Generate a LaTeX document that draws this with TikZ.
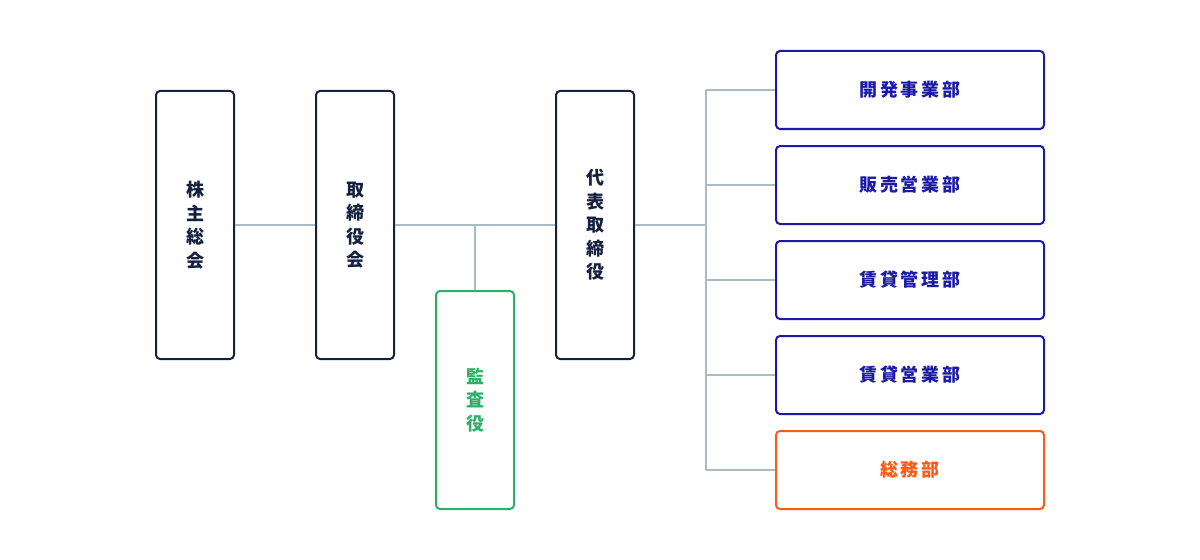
\documentclass[tikz,border=0pt]{standalone}
\usepackage{fontspec}
\setmainfont{Noto Sans CJK JP}
\newfontfamily\cjkh{Noto Sans CJK JP}[LetterSpace=16]
\definecolor{navy}{HTML}{13213F}
\definecolor{dblue}{HTML}{1A1AA6}
\definecolor{lgreen}{HTML}{2EAF68}
\definecolor{orng}{HTML}{FF5A14}
\definecolor{lgray}{HTML}{A9BCC3}
\begin{document}
\begin{tikzpicture}[x=0.75pt,y=-0.75pt,
  vbox/.style={draw=navy,line width=1.5pt,rounded corners=3pt,fill=white,inner sep=0pt,
    minimum width=58.5pt,minimum height=201pt,align=center,text=navy,
    font=\fontsize{13.5}{17.6}\selectfont\bfseries},
  hbox/.style={draw=dblue,line width=1.5pt,rounded corners=3pt,fill=white,inner sep=0pt,
    minimum width=201pt,minimum height=58.5pt,text=dblue,
    font=\fontsize{13.5}{16}\selectfont\cjkh\bfseries},
  conn/.style={draw=lgray,line width=1.5pt}]
\useasboundingbox (0,0) rectangle (1200,560);
\coordinate (j1) at (475,225);
\coordinate (trT) at (706,90);
\coordinate (trB) at (706,470);
\coordinate (j2) at (706,225);
% boxes
\node[vbox] (kabu) at (195,225) {株\\主\\総\\会};
\node[vbox] (tori) at (355,225) {取\\締\\役\\会};
\node[vbox,draw=lgreen,text=lgreen,minimum height=163.5pt] (kansa) at (475,400) {監\\査\\役};
\node[vbox] (dai) at (595,225) {代\\表\\取\\締\\役};
\node[hbox] (b1) at (910,90) {開発事業部};
\node[hbox] (b2) at (910,185) {販売営業部};
\node[hbox] (b3) at (910,280) {賃貸管理部};
\node[hbox] (b4) at (910,375) {賃貸営業部};
\node[hbox,draw=orng,text=orng] (b5) at (910,470) {総務部};
% connectors
\draw[conn] (kabu.east) -- (tori.west);
\draw[conn] (tori.east) -- (dai.west);
\draw[conn] (j1) -- (kansa.north);
\draw[conn] (dai.east) -- (j2);
\draw[conn] (trT) -- (trB);
\foreach \b in {b1,b2,b3,b4,b5} \draw[conn] (\b.west) -- (\b.west -| trT);
\end{tikzpicture}
\end{document}
